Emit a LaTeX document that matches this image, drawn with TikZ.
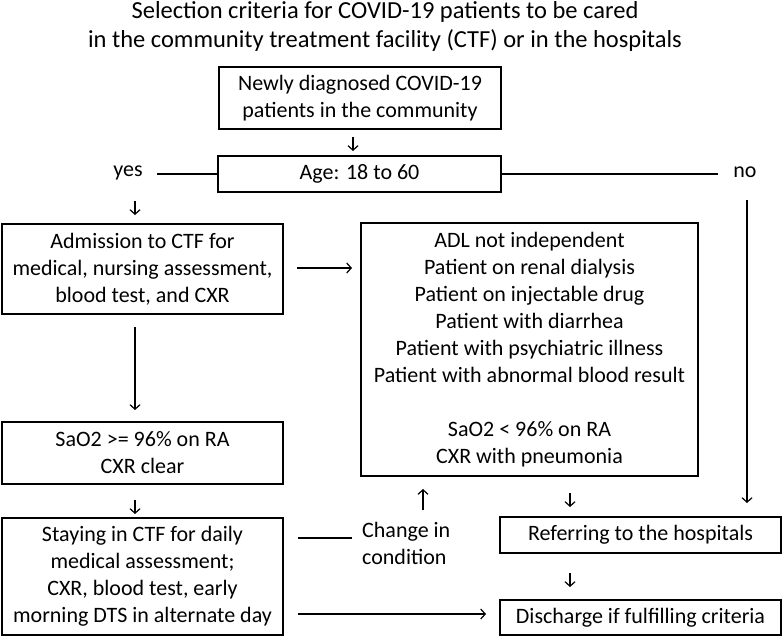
\documentclass[tikz,border=0pt]{standalone}
\usepackage{fontspec}
\setmainfont{Carlito}
\usetikzlibrary{arrows.meta}

\begin{document}
\begin{tikzpicture}[x=1pt,y=-1pt,
    box/.style={draw, line width=1.4pt, align=center, inner sep=0pt, font=\fontsize{22}{27}\selectfont},
    lbl/.style={align=left, inner sep=0pt, font=\fontsize{22}{27}\selectfont},
    arr/.style={-{Straight Barb[length=4.5pt,width=10pt]}, line width=1.2pt},
    ln/.style={line width=1.2pt}]
    \useasboundingbox (0,0) rectangle (783,637);

    % draw title
    \node[anchor=base, font=\fontsize{24.5}{29}\selectfont] (title1) at (385,18) {Selection criteria for COVID-19 patients to be cared};
    \node[anchor=base, font=\fontsize{24.5}{29}\selectfont] (title2) at (385,47) {in the community treatment facility (CTF) or in the hospitals};

    % draw boxes
    \node[box, minimum width=282pt, minimum height=62pt] (newly) at (360,98) {Newly diagnosed COVID-19\\patients in the community};
    \node[box, minimum width=283pt, minimum height=36pt] (age) at (359.5,174) {Age: 18 to 60};
    \node[box, minimum width=281pt, minimum height=90pt] (admit) at (142.5,269) {Admission to CTF for\\medical, nursing assessment,\\blood test, and CXR};
    \node[box, minimum width=337pt, minimum height=253pt] (crit) at (529.5,349.5) {ADL not independent\\Patient on renal dialysis\\Patient on injectable drug\\Patient with diarrhea\\Patient with psychiatric illness\\Patient with abnormal blood result\\[27pt]SaO2 < 96\% on RA\\CXR with pneumonia};
    \node[box, minimum width=281pt, minimum height=62pt] (sao) at (142.5,453) {SaO2 >= 96\% on RA\\CXR clear};
    \node[box, minimum width=281pt, minimum height=117pt] (stay) at (142.5,576.5) {Staying in CTF for daily\\medical assessment;\\CXR, blood test, early\\morning DTS in alternate day};
    \node[box, minimum width=281pt, minimum height=36pt] (refer) at (640.5,535) {Referring to the hospitals};
    \node[box, minimum width=281pt, minimum height=35pt] (disch) at (640.5,617.5) {Discharge if fulfilling criteria};

    % draw labels
    \node[lbl] (yes) at (128,173) {yes};
    \node[lbl] (no) at (745,172) {no};
    \node[lbl, anchor=west] (change) at (362,543) {Change in\\condition};

    % draw short down arrows
    \foreach \n/\x/\y in {d1/353/137, d2/135/201, d3/135/500, d4/570/493, d5/570/573}
    {
        \coordinate (\n top) at (\x,\y);
        \coordinate (\n bot) at (\x,\y+14);
        \draw[arr] (\n top) -- (\n bot);
    }

    % draw yes and no lines
    \coordinate (yesline) at (157,174);
    \coordinate (noline) at (718,174);
    \coordinate (notop) at (747,200);
    \coordinate (nobot) at (747,503);
    \draw[ln] (yesline) -- (age.west);
    \draw[ln] (age.east) -- (noline);
    \draw[arr] (notop) -- (nobot);

    % draw remaining arrows
    \coordinate (admitA) at (297,268);
    \coordinate (critA) at (352,268);
    \coordinate (admitB) at (135,327);
    \coordinate (saoB) at (135,410);
    \coordinate (upbot) at (423,510);
    \coordinate (uptop) at (423,489);
    \coordinate (stayA) at (298,538);
    \coordinate (changeA) at (352,538);
    \coordinate (stayB) at (298,614);
    \coordinate (dischB) at (486,614);
    \draw[arr] (admitA) -- (critA);
    \draw[arr] (admitB) -- (saoB);
    \draw[arr] (upbot) -- (uptop);
    \draw[ln] (stayA) -- (changeA);
    \draw[arr] (stayB) -- (dischB);
\end{tikzpicture}
\end{document}
